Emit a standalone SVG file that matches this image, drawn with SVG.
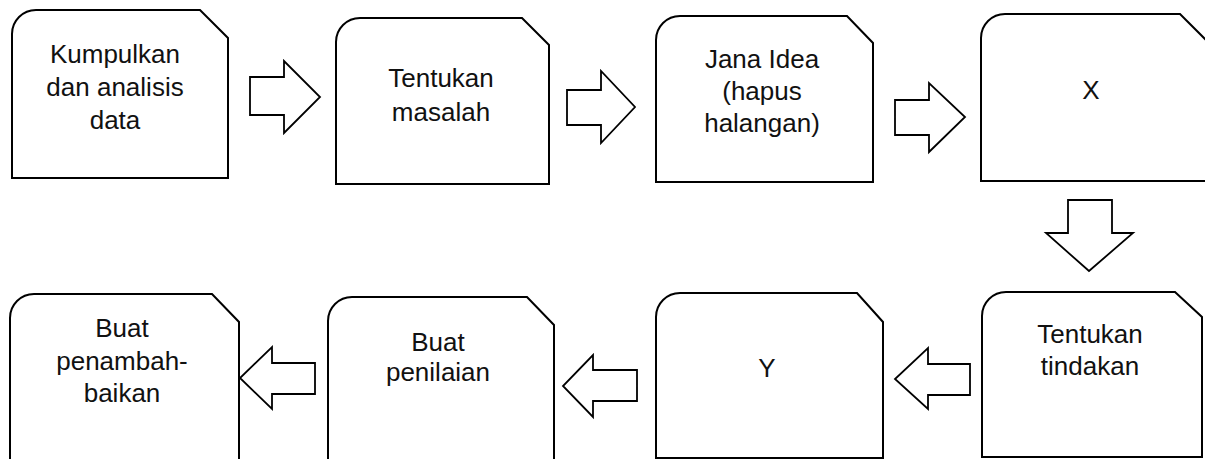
<svg xmlns="http://www.w3.org/2000/svg" width="1205" height="459" viewBox="0 0 1205 459">
<style>
.node{fill:#fff;stroke:#000;stroke-width:2;stroke-linejoin:miter}
.arrow{fill:#fff;stroke:#000;stroke-width:1.8;stroke-linejoin:miter}
text{font-family:"Liberation Sans",Arial,sans-serif;font-size:26px;fill:#111;text-anchor:middle}
</style>
<rect width="1205" height="459" fill="#fff"/>
<g id="connectors">
<path class="arrow" d="M250,77 H284 V61 L320,97 L284,133 V115 H250 Z"/>
<path class="arrow" d="M567,90 H601 V71 L635,107 L601,143 V125 H567 Z"/>
<path class="arrow" d="M895,100 H929 V83 L965,117 L929,152 V135 H895 Z"/>
<path class="arrow" d="M1068,200 V233 H1046 L1089,271 L1133,233 H1112 V200 Z"/>
<path class="arrow" d="M970,364 H928 V348 L895,379 L928,409 V395 H970 Z"/>
<path class="arrow" d="M637,370 H593 V355 L563,386 L593,417 V401 H637 Z"/>
<path class="arrow" d="M315,363 H272 V347 L240,378 L272,409 V394 H315 Z"/>
</g>
<g id="n1">
<path class="node" d="M12,34 A24,24 0 0 1 36,10 H200 L228,38 V178 H12 Z"/>
<text x="115" y="63">Kumpulkan</text>
<text x="115" y="96">dan analisis</text>
<text x="115" y="129">data</text>
</g>
<g id="n2">
<path class="node" d="M336,42 A24,24 0 0 1 360,18 H522 L549,45 V184 H336 Z"/>
<text x="441" y="87">Tentukan</text>
<text x="441" y="121">masalah</text>
</g>
<g id="n3">
<path class="node" d="M656,40 A24,24 0 0 1 680,16 H847 L873,43 V182 H656 Z"/>
<text x="762" y="68">Jana Idea</text>
<text x="762" y="100">(hapus</text>
<text x="762" y="132">halangan)</text>
</g>
<g id="nX">
<path class="node" d="M981,38 A24,24 0 0 1 1005,14 H1180 L1207,41 V181 H981 Z"/>
<text x="1091" y="99">X</text>
</g>
<g id="nTT">
<path class="node" d="M982,316 A24,24 0 0 1 1006,292 H1175 L1202,317 V457 H982 Z"/>
<text x="1090" y="343">Tentukan</text>
<text x="1090" y="375">tindakan</text>
</g>
<g id="nY">
<path class="node" d="M656,317 A24,24 0 0 1 680,293 H857 L883,322 V458 H656 Z"/>
<text x="767" y="377">Y</text>
</g>
<g id="nBP">
<path class="node" d="M328,321 A24,24 0 0 1 352,297 H527 L554,325 V464 H328 Z"/>
<text x="438" y="351">Buat</text>
<text x="438" y="381">penilaian</text>
</g>
<g id="nBPB">
<path class="node" d="M10,318 A24,24 0 0 1 34,294 H212 L239,322 V464 H10 Z"/>
<text x="122" y="337">Buat</text>
<text x="122" y="370">penambah-</text>
<text x="122" y="402">baikan</text>
</g>
</svg>
